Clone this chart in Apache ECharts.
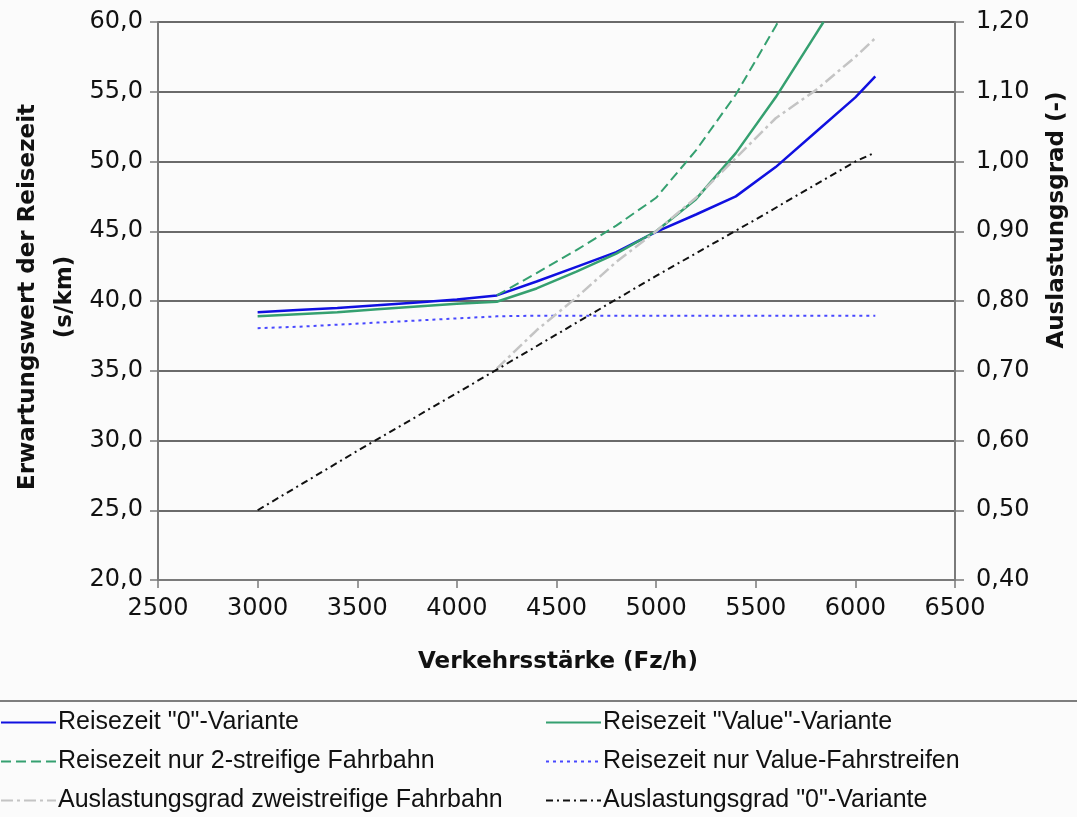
<!DOCTYPE html>
<html>
<head>
<meta charset="utf-8">
<script src="https://cdn.jsdelivr.net/npm/echarts@6/dist/echarts.min.js"></script>
<style>
  html, body { margin: 0; padding: 0; background: #fbfbfb; }
  #chart { width: 1077px; height: 817px; }
</style>
</head>
<body>
<div id="chart"></div>
<script>
// x-values (Fz/h) for each curve
const xMain = [3000, 3200, 3400, 3600, 3800, 4000, 4200, 4400, 4600, 4800, 5000, 5200, 5400, 5600, 5800, 6000, 6100];
const xValue = [3000, 3200, 3400, 3600, 3800, 4000, 4200, 4400, 4600, 4800, 5000, 5200, 5400, 5600, 5800, 5840];
const xZwei = [4200, 4400, 4600, 4800, 5000, 5200, 5400, 5600, 5612];
const xAuslZwei = [4200, 4400, 4600, 4800, 5000, 5200, 5400, 5600, 5800, 6000, 6100];
const xAuslNull = [3000, 3500, 4000, 4500, 5000, 5500, 6000, 6100];

// Reisezeit (s/km), left axis
const reiseNull = [39.2, 39.35, 39.5, 39.7, 39.9, 40.1, 40.4, 41.4, 42.45, 43.5, 44.95, 46.2, 47.5, 49.6, 52.1, 54.6, 56.1];
const reiseValue = [38.9, 39.05, 39.2, 39.4, 39.6, 39.8, 39.95, 40.9, 42.1, 43.4, 45.0, 47.3, 50.6, 54.6, 59.1, 60.0];
const reiseZwei = [40.4, 42.0, 43.65, 45.4, 47.4, 50.8, 54.8, 59.7, 60.0];
const reiseValueFS = [38.05, 38.15, 38.3, 38.45, 38.6, 38.75, 38.9, 38.95, 38.95, 38.95, 38.95, 38.95, 38.95, 38.95, 38.95, 38.95, 38.95];

// Auslastungsgrad (-), right axis
const auslZwei = [0.703, 0.758, 0.805, 0.856, 0.90, 0.948, 1.005, 1.062, 1.102, 1.15, 1.177];
const auslNull = [0.50, 0.585, 0.668, 0.752, 0.836, 0.917, 1.0, 1.013];

const names = [
  'Reisezeit "0"-Variante',
  'Reisezeit "Value"-Variante',
  'Reisezeit nur 2-streifige Fahrbahn',
  'Reisezeit nur Value-Fahrstreifen',
  'Auslastungsgrad zweistreifige Fahrbahn',
  'Auslastungsgrad "0"-Variante'
];

const pairs = (xs, ys) => xs.map((x, i) => [x, ys[i]]);
const comma = d => v => v.toFixed(d).replace('.', ',');

const chart = echarts.init(document.getElementById('chart'));

const tickFont = 'DejaVu Sans';
const titleFont = 'bold 23px "DejaVu Sans"';

const line = (name, data, color, width, type, yIdx) => ({
  name: name,
  type: 'line',
  yAxisIndex: yIdx || 0,
  data: data,
  symbol: 'none',
  showSymbol: false,
  lineStyle: { color: color, width: width, type: type },
  itemStyle: { color: color }
});

const legendBase = {
  orient: 'vertical',
  top: 710,
  padding: 0,
  itemWidth: 55,
  itemHeight: 14,
  itemGap: 14,
  itemStyle: { color: 'rgba(0,0,0,0)', borderWidth: 0 },
  textStyle: { fontFamily: 'Liberation Sans', fontSize: 25, lineHeight: 24, color: '#111', padding: [0, 0, 0, -3] },
  selectedMode: false
};

chart.setOption({
  backgroundColor: '#fbfbfb',
  animation: false,
  grid: { left: 158, right: 122, top: 22, bottom: 237 },
  xAxis: {
    type: 'value',
    min: 2500,
    max: 6500,
    interval: 500,
    axisLine: { lineStyle: { color: '#7a7a7a', width: 2 } },
    axisTick: { length: 8, lineStyle: { color: '#7a7a7a', width: 1.5 } },
    axisLabel: { formatter: v => String(v), fontFamily: tickFont, fontSize: 24, color: '#111', margin: 17 },
    splitLine: { show: false }
  },
  yAxis: [
    {
      type: 'value',
      min: 20,
      max: 60,
      interval: 5,
      position: 'left',
      axisLine: { show: true, lineStyle: { color: '#7a7a7a', width: 2 } },
      axisTick: { show: true, length: 8, lineStyle: { color: '#7a7a7a', width: 1.5 } },
      axisLabel: { formatter: comma(1), fontFamily: tickFont, fontSize: 24, color: '#111', margin: 15 },
      splitLine: { show: true, lineStyle: { color: '#3a3a3a', width: 1.5 } }
    },
    {
      type: 'value',
      min: 0.4,
      max: 1.2,
      interval: 0.1,
      position: 'right',
      axisLine: { show: true, lineStyle: { color: '#7a7a7a', width: 2 } },
      axisTick: { show: true, length: 9, lineStyle: { color: '#7a7a7a', width: 1.5 } },
      axisLabel: { formatter: comma(2), fontFamily: tickFont, fontSize: 24, color: '#111', margin: 21 },
      splitLine: { show: false }
    }
  ],
  legend: [
    Object.assign({}, legendBase, { left: 0, data: [names[0], names[2], names[4]] }),
    Object.assign({}, legendBase, { left: 545, data: [names[1], names[3], names[5]] })
  ],
  graphic: [
    { type: 'line', shape: { x1: 0, y1: 701, x2: 1077, y2: 701 }, style: { stroke: '#555', lineWidth: 1.5 } },
    {
      type: 'text', x: 47, y: 297, rotation: Math.PI / 2,
      style: { text: 'Erwartungswert der Reisezeit\n(s/km)', font: titleFont, fill: '#111', align: 'center', verticalAlign: 'middle', lineHeight: 37 }
    },
    {
      type: 'text', x: 1057, y: 220, rotation: Math.PI / 2,
      style: { text: 'Auslastungsgrad (-)', font: titleFont, fill: '#111', align: 'center', verticalAlign: 'middle' }
    },
    {
      type: 'text', x: 558, y: 662,
      style: { text: 'Verkehrsstärke (Fz/h)', font: titleFont, fill: '#111', align: 'center', verticalAlign: 'middle' }
    }
  ],
  series: [
    line(names[0], pairs(xMain, reiseNull), '#1010e0', 2.5, 'solid'),
    line(names[1], pairs(xValue, reiseValue), '#35a070', 2.5, 'solid'),
    line(names[2], pairs(xZwei, reiseZwei), '#35a070', 2, [10, 5]),
    line(names[3], pairs(xMain, reiseValueFS), '#4848ff', 2, [3, 4]),
    line(names[4], pairs(xAuslZwei, auslZwei), '#c4c4c4', 2.5, [12, 4, 3, 4], 1),
    line(names[5], pairs(xAuslNull, auslNull), '#111111', 2, [7, 4, 2, 4], 1)
  ]
});
</script>
</body>
</html>
